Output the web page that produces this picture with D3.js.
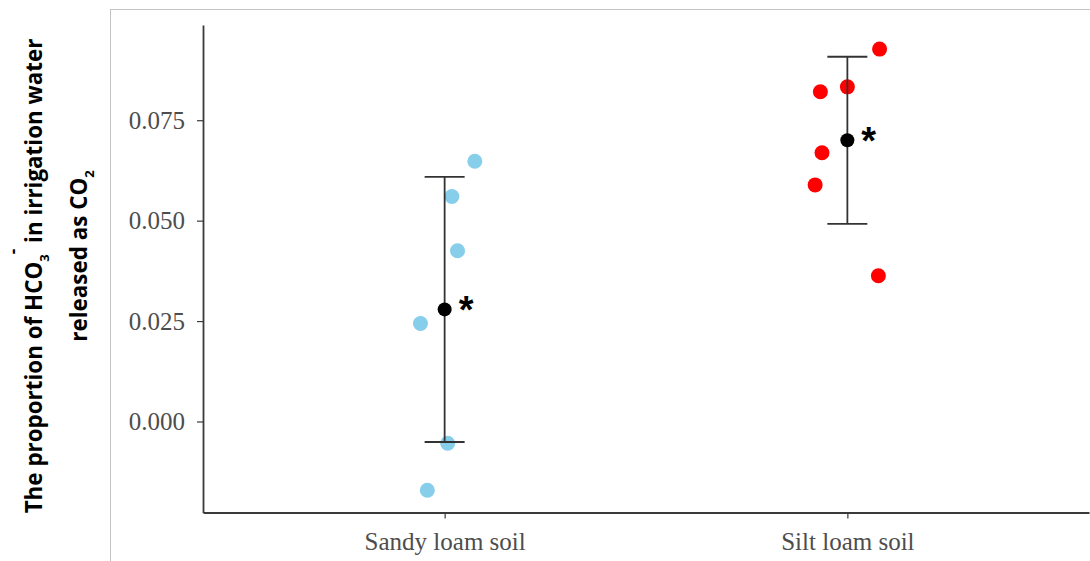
<!DOCTYPE html>
<html>
<head>
<meta charset="utf-8">
<script src="https://cdn.jsdelivr.net/npm/d3@7"></script>
<style>
  body { margin: 0; background: #fff; }
  svg { display: block; }
</style>
</head>
<body>
<svg id="chart" width="1090" height="561"></svg>
<script>
// soil types on the x axis
var soils = ["Sandy loam soil", "Silt loam soil"];

var sandyValues = [0.0648, 0.0560, 0.0425, 0.0244, -0.0054, -0.0171];
var siltValues = [0.0927, 0.0821, 0.0833, 0.0669, 0.0589, 0.0363];

// horizontal jitter of each observation, as a fraction of a category step
var sandyJitter = [0.075, 0.018, 0.032, -0.06, 0.0075, -0.043];
var siltJitter = [0.08, -0.067, 0.0, -0.063, -0.08, 0.077];

// group mean and error (sd) as drawn
var groupMeans = [0.0279, 0.0700];
var groupErrors = [0.0330, 0.0208];
var groupColors = ["#87ceeb", "#ff0000"];

var yTicks = [0.000, 0.025, 0.050, 0.075];
var yDomain = [-0.02265, 0.0987];

var svg = d3.select("#chart");

var plot = { left: 203, right: 1089, top: 25, bottom: 512.5 };

var x = d3.scalePoint()
  .domain(soils)
  .range([plot.left, plot.right])
  .padding(0.6);

var y = d3.scaleLinear()
  .domain(yDomain)
  .range([plot.bottom, plot.top]);

// light outer frame
svg.append("rect")
  .attr("x", 110.5)
  .attr("y", 9.5)
  .attr("width", 1000)
  .attr("height", 600)
  .attr("fill", "none")
  .attr("stroke", "#c4c4c4")
  .attr("stroke-width", 1);

// axes
var yAxis = d3.axisLeft(y)
  .tickValues(yTicks)
  .tickFormat(d3.format(".3f"))
  .tickSizeInner(6)
  .tickSizeOuter(0)
  .tickPadding(12);

var xAxis = d3.axisBottom(x)
  .tickSizeInner(6)
  .tickSizeOuter(0)
  .tickPadding(13.5);

var gy = svg.append("g")
  .attr("transform", "translate(" + plot.left + ",0)")
  .call(yAxis);

var gx = svg.append("g")
  .attr("transform", "translate(0," + plot.bottom + ")")
  .call(xAxis);

[gx, gy].forEach(function (g) {
  g.select(".domain").attr("stroke", "#3a3a3a").attr("stroke-width", 1.8);
  g.selectAll(".tick line").attr("stroke", "#3a3a3a").attr("stroke-width", 1.2);
  g.selectAll(".tick text")
    .attr("fill", "#4d4d4d")
    .style("font-family", "'Liberation Serif', 'Times New Roman', serif")
    .style("font-size", "25px");
});

// observations
var groups = soils.map(function (s, i) {
  return {
    soil: s,
    values: i === 0 ? sandyValues : siltValues,
    jitter: i === 0 ? sandyJitter : siltJitter,
    mean: groupMeans[i],
    err: groupErrors[i],
    color: groupColors[i],
  };
});

var step = x.step();

groups.forEach(function (g) {
  svg.append("g")
    .selectAll("circle")
    .data(g.values)
    .enter()
    .append("circle")
    .attr("cx", function (d, i) { return x(g.soil) + g.jitter[i] * step; })
    .attr("cy", function (d) { return y(d); })
    .attr("r", 7.5)
    .attr("fill", g.color);
});

// error bars, mean points and significance stars
var summary = svg.append("g")
  .selectAll("g")
  .data(groups)
  .enter()
  .append("g");

summary.append("line")
  .attr("x1", function (d) { return x(d.soil); })
  .attr("x2", function (d) { return x(d.soil); })
  .attr("y1", function (d) { return y(d.mean + d.err); })
  .attr("y2", function (d) { return y(d.mean - d.err); })
  .attr("stroke", "#333")
  .attr("stroke-width", 1.8);

[1, -1].forEach(function (sign) {
  summary.append("line")
    .attr("x1", function (d) { return x(d.soil) - 20; })
    .attr("x2", function (d) { return x(d.soil) + 20; })
    .attr("y1", function (d) { return y(d.mean + sign * d.err); })
    .attr("y2", function (d) { return y(d.mean + sign * d.err); })
    .attr("stroke", "#333")
    .attr("stroke-width", 1.8);
});

summary.append("circle")
  .attr("cx", function (d) { return x(d.soil); })
  .attr("cy", function (d) { return y(d.mean); })
  .attr("r", 7)
  .attr("fill", "#000");

summary.append("text")
  .attr("x", function (d) { return x(d.soil) + 14; })
  .attr("y", function (d) { return y(d.mean) + 14; })
  .attr("fill", "#000")
  .style("font-family", "'Liberation Sans', Arial, sans-serif")
  .style("font-weight", "bold")
  .style("font-size", "38px")
  .text("*");

// y axis title, two lines with sub/superscripts
var title = svg.append("g")
  .attr("font-family", "'Open Sans', 'Noto Sans', sans-serif")
  .attr("font-weight", "bold")
  .attr("font-size", "22.4px")
  .attr("fill", "#000")
  .attr("text-anchor", "middle");

var line1 = title.append("text")
  .attr("transform", "translate(42,276) rotate(-90)");
line1.append("tspan").text("The proportion of HCO");
line1.append("tspan").attr("font-size", "13px").attr("dy", 7).text("3");
line1.append("tspan").attr("font-size", "17px").attr("dy", -30).text("-");
line1.append("tspan").attr("dy", 23).text(" in irrigation water");

var line2 = title.append("text")
  .attr("transform", "translate(87,256) rotate(-90)");
line2.append("tspan").text("released as CO");
line2.append("tspan").attr("font-size", "13px").attr("dy", 7).text("2");
</script>
</body>
</html>
